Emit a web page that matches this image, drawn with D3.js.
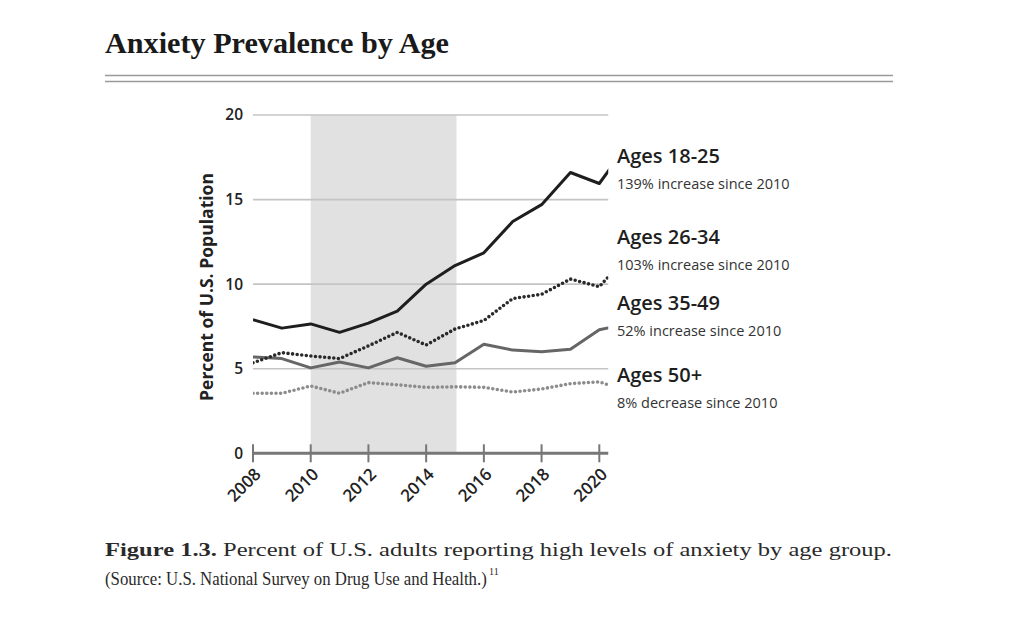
<!DOCTYPE html>
<html>
<head>
<meta charset="utf-8">
<script src="https://cdn.jsdelivr.net/npm/d3@7"></script>
<style>
  body { margin: 0; background: #fff; }
  svg { display: block; }
</style>
</head>
<body>
<script>
// data (2021 point sits past the clipped right edge)
var years = [2008, 2009, 2010, 2011, 2012, 2013, 2014, 2015, 2016, 2017, 2018, 2019, 2020, 2021];
var ages1825 = [7.9, 7.4, 7.65, 7.15, 7.7, 8.4, 10.0, 11.1, 11.85, 13.7, 14.7, 16.6, 15.95, 18.3];
var ages2634 = [5.35, 5.95, 5.75, 5.6, 6.35, 7.15, 6.4, 7.35, 7.85, 9.15, 9.4, 10.3, 9.85, 11.7];
var ages3549 = [5.7, 5.6, 5.05, 5.4, 5.05, 5.65, 5.15, 5.35, 6.45, 6.1, 6.0, 6.15, 7.3, 7.65];
var ages50 = [3.55, 3.55, 3.98, 3.55, 4.18, 4.05, 3.9, 3.93, 3.9, 3.62, 3.8, 4.12, 4.22, 3.66];

var yTicks = [0, 5, 10, 15, 20];
var xTicks = [2008, 2010, 2012, 2014, 2016, 2018, 2020];
var band = [2010, 2015.05];

var groupNames = ['Ages 18-25', 'Ages 26-34', 'Ages 35-49', 'Ages 50+'];
var groupNotes = ['139% increase since 2010', '103% increase since 2010', '52% increase since 2010', '8% decrease since 2010'];

var W = 1018, H = 632;
var svg = d3.select('body').append('svg')
    .attr('width', W)
    .attr('height', H);

var sans = "'Open Sans', 'Noto Sans', sans-serif";
var serif = "'Liberation Serif', 'DejaVu Serif', serif";

// title + double rule
svg.append('text')
  .attr('x', 105).attr('y', 53)
  .attr('font-family', serif)
  .attr('font-weight', 700)
  .attr('font-size', 29)
  .attr('textLength', 344)
  .attr('lengthAdjust', 'spacingAndGlyphs')
  .attr('fill', '#1a1a1a')
  .text('Anxiety Prevalence by Age');

[75.5, 81.5].forEach(function(yy) {
  svg.append('line')
    .attr('x1', 105).attr('x2', 893)
    .attr('y1', yy).attr('y2', yy)
    .attr('stroke', '#9a9a9a')
    .attr('stroke-width', 1.5);
});

// scales
var xEnd = 2020.31;
var x = d3.scaleLinear().domain([2008, 2020]).range([253, 599.3]);
var y = d3.scaleLinear().domain([0, 20]).range([453.3, 115]);

svg.append('clipPath').attr('id', 'plot')
  .append('rect')
  .attr('x', x(2008)).attr('y', 0)
  .attr('width', x(xEnd) - x(2008)).attr('height', H);

// shaded period
svg.append('rect')
  .attr('x', x(band[0]))
  .attr('y', y(20))
  .attr('width', x(band[1]) - x(band[0]))
  .attr('height', y(0) - y(20))
  .attr('fill', '#e1e1e1');

// gridlines
svg.selectAll('.grid')
  .data(yTicks.filter(function(d) { return d > 0; }))
  .enter().append('line')
  .attr('class', 'grid')
  .attr('x1', x(2008)).attr('x2', x(xEnd))
  .attr('y1', function(d) { return y(d); })
  .attr('y2', function(d) { return y(d); })
  .attr('stroke', '#c4c4c4')
  .attr('stroke-width', 1.6);

// y labels
svg.selectAll('.ylab')
  .data(yTicks)
  .enter().append('text')
  .attr('class', 'ylab')
  .attr('x', 243)
  .attr('y', function(d) { return y(d); })
  .attr('dy', '0.35em')
  .attr('text-anchor', 'end')
  .attr('font-family', sans)
  .attr('font-weight', 600)
  .attr('font-size', 15.5)
  .attr('fill', '#222')
  .text(function(d) { return d; });

svg.append('text')
  .attr('transform', 'translate(213,' + 287 + ') rotate(-90)')
  .attr('text-anchor', 'middle')
  .attr('font-family', sans)
  .attr('font-weight', 700)
  .attr('font-size', 17)
  .attr('textLength', 228)
  .attr('lengthAdjust', 'spacingAndGlyphs')
  .attr('fill', '#222')
  .text('Percent of U.S. Population');

// x axis
svg.append('line')
  .attr('x1', x(2008)).attr('x2', x(xEnd))
  .attr('y1', y(0)).attr('y2', y(0))
  .attr('stroke', '#777')
  .attr('stroke-width', 3);

svg.selectAll('.xtick')
  .data(xTicks)
  .enter().append('line')
  .attr('class', 'xtick')
  .attr('x1', function(d) { return x(d); })
  .attr('x2', function(d) { return x(d); })
  .attr('y1', y(0) - 9).attr('y2', y(0) + 9)
  .attr('stroke', '#777')
  .attr('stroke-width', 2);

svg.selectAll('.xlab')
  .data(xTicks)
  .enter().append('text')
  .attr('class', 'xlab')
  .attr('transform', function(d) { return 'translate(' + (x(d) + 9) + ',' + (y(0) + 22) + ') rotate(-45)'; })
  .attr('text-anchor', 'end')
  .attr('font-family', sans)
  .attr('font-weight', 600)
  .attr('font-size', 17)
  .attr('fill', '#222')
  .text(function(d) { return d; });

// series
var series = [
  { values: ages50, color: '#8c8c8c', dash: '0,4.6' },
  { values: ages3549, color: '#666', dash: null },
  { values: ages2634, color: '#2a2a2a', dash: '0,4.6' },
  { values: ages1825, color: '#1e1e1e', dash: null }
];

var line = d3.line()
  .x(function(d, i) { return x(years[i]); })
  .y(function(d) { return y(d); });

var g = svg.append('g').attr('clip-path', 'url(#plot)');
g.selectAll('.series')
  .data(series)
  .enter().append('path')
  .attr('class', 'series')
  .attr('d', function(s) { return line(s.values); })
  .attr('fill', 'none')
  .attr('stroke', function(s) { return s.color; })
  .attr('stroke-width', function(s) { return s.dash ? 3.6 : 3; })
  .attr('stroke-linecap', function(s) { return s.dash ? 'round' : 'butt'; })
  .attr('stroke-linejoin', 'round')
  .attr('stroke-dasharray', function(s) { return s.dash; });

// right-hand labels
var nameY = [162.7, 244.3, 310, 381.7];
var lab = svg.selectAll('.grp')
  .data(groupNames)
  .enter().append('g')
  .attr('class', 'grp');

lab.append('text')
  .attr('x', 617)
  .attr('y', function(d, i) { return nameY[i]; })
  .attr('font-family', sans)
  .attr('font-weight', 600)
  .attr('font-size', 20)
  .attr('fill', '#1e1e1e')
  .text(function(d) { return d; });

lab.append('text')
  .attr('x', 617)
  .attr('y', function(d, i) { return nameY[i] + 26; })
  .attr('font-family', sans)
  .attr('font-size', 14.5)
  .attr('fill', '#333')
  .text(function(d, i) { return groupNotes[i]; });

// caption
var cap1 = svg.append('text')
  .attr('x', 105).attr('y', 556)
  .attr('font-family', serif)
  .attr('font-size', 19.5)
  .attr('fill', '#2a2a2a')
  .attr('textLength', 787)
  .attr('lengthAdjust', 'spacingAndGlyphs');
cap1.append('tspan').attr('font-weight', 700).text('Figure 1.3.');
cap1.append('tspan').text(' Percent of U.S. adults reporting high levels of anxiety by age group.');

// second line: squeeze with a scale so its box stays true
var cap2 = svg.append('text')
  .attr('font-family', serif)
  .attr('font-size', 19)
  .attr('fill', '#2a2a2a')
  .text('(Source: U.S. National Survey on Drug Use and Health.)');
var natural = cap2.node().getComputedTextLength();
var target = 382;
cap2.attr('transform', 'translate(105,585) scale(' + (target / natural) + ',1)');

svg.append('text')
  .attr('x', 105 + target + 2).attr('y', 575)
  .attr('font-family', serif)
  .attr('font-size', 10)
  .attr('fill', '#2a2a2a')
  .text('11');
</script>
</body>
</html>
